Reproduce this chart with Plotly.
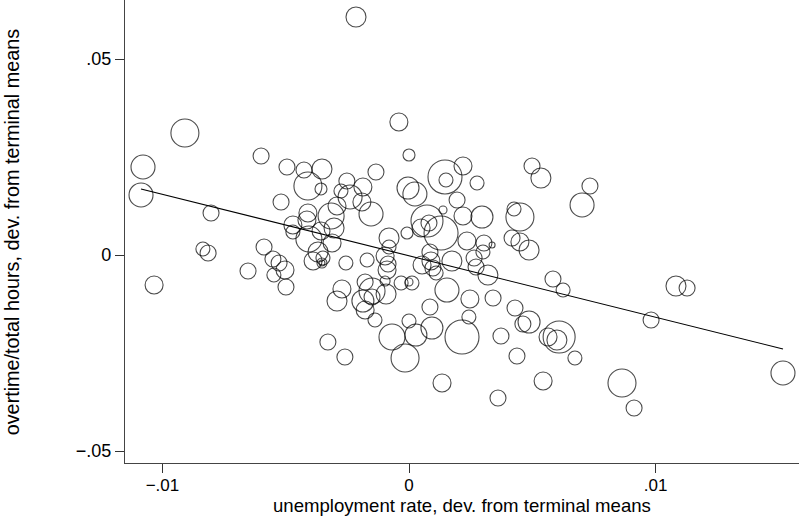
import numpy as np
import plotly.graph_objects as go

# Deviations from terminal means, one point per terminal-period observation
unemp_dev = [
    -0.00215, -0.00909, -0.01079, -0.01087, -0.00600, -0.00495, -0.00426, -0.00353,
    -0.00410, -0.00357, -0.00519, -0.00803, -0.01034, -0.00252, -0.00276, -0.00239,
    -0.00187, -0.00191, -0.00154, -0.00134, -0.00292, -0.00316, -0.00410, -0.00414,
    -0.00471, -0.00471, -0.00406, -0.00357, -0.00304, -0.00312, -0.00369, -0.00389,
    -0.00349, -0.00353, -0.00353, -0.00256, -0.00272, -0.00292, -0.00329, -0.00260,
    -0.00836, -0.00815, -0.00653, -0.00588, -0.00552, -0.00527, -0.00503, -0.00548,
    -0.00499, -0.00041, 0.00000, 0.00146, 0.00150, 0.00219, 0.00276, -0.00004,
    0.00024, 0.00195, 0.00219, 0.00296, 0.00138, 0.00073, 0.00081, 0.00130,
    0.00049, -0.00008, -0.00081, -0.00081, 0.00499, 0.00535, 0.00426, 0.00450,
    0.00418, 0.00450, 0.00487, 0.00734, 0.00702, -0.00170, -0.00097, -0.00085,
    -0.00089, -0.00178, -0.00150, -0.00187, -0.00150, -0.00097, -0.00178, -0.00138,
    -0.00093, -0.00032, 0.00000, 0.00012, 0.00053, 0.00085, 0.00089, 0.00097,
    0.00110, 0.00174, 0.00235, 0.00264, 0.00272, 0.00304, 0.00337, 0.00300,
    0.00320, 0.00154, 0.00247, 0.00341, 0.00085, 0.00243, 0.00000, 0.00093,
    0.00028, -0.00069, 0.00215, -0.00016, 0.00373, 0.00430, 0.00462, 0.00487,
    0.00438, 0.00564, 0.00609, 0.00600, 0.00584, 0.00625, 0.00134, 0.00361,
    0.00544, 0.01083, 0.01128, 0.00982, 0.00673, 0.00864, 0.00913, 0.01517,
]

overtime_dev = [
    0.06071, 0.03112, 0.02245, 0.01531, 0.02526, 0.02245, 0.02168, 0.02194,
    0.01760, 0.01684, 0.01352, 0.01071, -0.00765, 0.01888, 0.01633, 0.01480,
    0.01735, 0.01352, 0.01046, 0.02117, 0.01250, 0.00995, 0.01071, 0.00893,
    0.00765, 0.00587, 0.00408, 0.00612, 0.00689, 0.00306, 0.00077, -0.00153,
    -0.00077, -0.00204, -0.00204, -0.00204, -0.00867, -0.01173, -0.02219, -0.02602,
    0.00153, 0.00051, -0.00408, 0.00204, -0.00102, -0.00204, -0.00383, -0.00510,
    -0.00816, 0.03393, 0.02551, 0.01990, 0.01913, 0.02270, 0.01837, 0.01709,
    0.01556, 0.01403, 0.00995, 0.00969, 0.01148, 0.00867, 0.00816, 0.00561,
    0.00689, 0.00561, 0.00434, 0.00204, 0.02270, 0.01964, 0.01173, 0.00969,
    0.00434, 0.00332, 0.00128, 0.01760, 0.01276, -0.00128, -0.00026, -0.00230,
    -0.00383, -0.00689, -0.00918, -0.01173, -0.01071, -0.00663, -0.01403, -0.01658,
    -0.00995, -0.00714, -0.00689, -0.00714, -0.00255, 0.00077, -0.00153, -0.00332,
    -0.00459, -0.00153, 0.00357, -0.00077, -0.00306, 0.00306, 0.00255, 0.00077,
    -0.00510, -0.00893, -0.01122, -0.01097, -0.01327, -0.01582, -0.01684, -0.01862,
    -0.02041, -0.02092, -0.02092, -0.02628, -0.02066, -0.01352, -0.01760, -0.01709,
    -0.02577, -0.02092, -0.02092, -0.02168, -0.00612, -0.00893, -0.03265, -0.03648,
    -0.03214, -0.00791, -0.00842, -0.01658, -0.02628, -0.03265, -0.03903, -0.03010,
]

# Analytic weights (marker area is proportional to weight)
weights = [
    100, 196, 144, 144, 64, 64, 64, 100,
    196, 36, 64, 64, 81, 64, 49, 144,
    81, 81, 144, 64, 81, 169, 81, 81,
    81, 49, 169, 81, 100, 81, 100, 81,
    49, 25, 9, 49, 81, 100, 64, 64,
    49, 64, 64, 64, 64, 64, 81, 49,
    64, 81, 36, 289, 49, 81, 49, 121,
    144, 64, 81, 121, 16, 256, 64, 289,
    81, 36, 100, 49, 64, 100, 49, 196,
    64, 81, 100, 64, 144, 49, 81, 64,
    81, 64, 169, 121, 64, 25, 81, 49,
    100, 49, 16, 49, 81, 64, 81, 64,
    49, 100, 81, 64, 64, 64, 9, 49,
    100, 144, 81, 64, 64, 49, 49, 121,
    121, 169, 289, 196, 64, 64, 64, 121,
    64, 81, 256, 100, 64, 49, 81, 64,
    81, 100, 64, 64, 49, 196, 64, 144,
]

# Weighted linear fit: overtime_dev = fit_intercept + fit_slope * unemp_dev
fit_intercept = -0.0002
fit_slope = -1.568

x_ticks = [-0.01, 0.0, 0.01]
x_ticktext = ["\u2212.01", "0", ".01"]
y_ticks = [-0.05, 0.0, 0.05]
y_ticktext = ["\u2212.05", "0", ".05"]

x_title = "unemployment rate, dev. from terminal means"
y_title = "overtime/total hours, dev. from terminal means"

x = np.array(unemp_dev)
y = np.array(overtime_dev)
marker_diam = 2.0 * np.sqrt(np.array(weights, dtype=float))

fit_x = np.array([x.min(), x.max()])
fit_y = fit_intercept + fit_slope * fit_x

FONT = "Liberation Sans, Arial, Helvetica, sans-serif"

fig = go.Figure()
fig.add_trace(go.Scatter(
    x=x, y=y, mode="markers",
    marker=dict(size=marker_diam, sizemode="diameter", color="rgba(0,0,0,0)",
                line=dict(color="black", width=1.1)),
    hoverinfo="skip", showlegend=False,
))
fig.add_trace(go.Scatter(
    x=fit_x, y=fit_y, mode="lines",
    line=dict(color="black", width=1.1),
    hoverinfo="skip", showlegend=False,
))

axis_common = dict(
    showgrid=False, zeroline=False, showline=True,
    linecolor="#444444", linewidth=1.3,
    ticks="outside", ticklen=9, tickwidth=1, tickcolor="#333333",
)

fig.update_xaxes(range=[-0.01152, 0.01582], tickvals=x_ticks, ticktext=x_ticktext,
                 ticklabelstandoff=-3, tickfont=dict(family=FONT, size=17, color="black"),
                 **axis_common)
fig.update_yaxes(range=[-0.05306, 0.06505], tickvals=y_ticks, ticktext=y_ticktext,
                 tickfont=dict(family=FONT, size=18, color="black"),
                 **axis_common)

# Axis titles, centred on the plot region
fig.add_annotation(text=x_title, xref="paper", yref="paper", x=0.5, y=-0.1156,
                   xanchor="center", yanchor="bottom", showarrow=False, borderpad=0,
                   font=dict(family=FONT, size=18.6, color="black"))
fig.add_annotation(text=y_title, xref="paper", yref="paper", x=-0.168, y=0.5,
                   xanchor="center", yanchor="middle", showarrow=False, textangle=-90,
                   font=dict(family=FONT, size=19.8, color="black"))

fig.update_layout(
    width=799, height=517,
    margin=dict(l=125, r=0, t=0, b=54),
    paper_bgcolor="white", plot_bgcolor="white",
)

fig.write_html("out.html")
